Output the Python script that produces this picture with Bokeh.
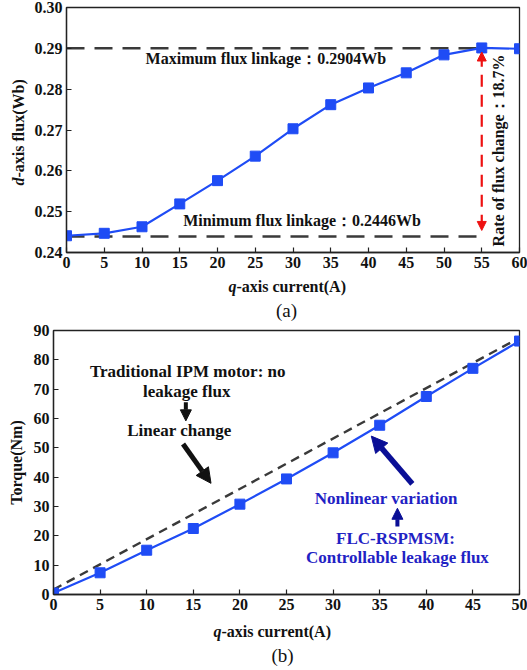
from bokeh.plotting import figure
from bokeh.models import Label, Arrow, NormalHead, FixedTicker, Range1d, ColumnDataSource, PrintfTickFormatter
from bokeh.layouts import column, row
from bokeh.embed import file_html
from bokeh.resources import INLINE

# ---------------- data: panel (a) ----------------
iq_a = [0, 5, 10, 15, 20, 25, 30, 35, 40, 45, 50, 55, 60]
flux_d = [0.2441, 0.2447, 0.2463, 0.2519, 0.2576, 0.2636, 0.2703,
          0.2762, 0.2803, 0.2840, 0.2884, 0.2901, 0.2899]
flux_max_level = 0.2900
flux_min_level = 0.2439
ref_x = [0, 55]
xticks_a = [0, 5, 10, 15, 20, 25, 30, 35, 40, 45, 50, 55, 60]
yticks_a = [0.24, 0.25, 0.26, 0.27, 0.28, 0.29, 0.30]

# ---------------- data: panel (b) ----------------
iq_b = [0, 5, 10, 15, 20, 25, 30, 35, 40, 45, 50]
torque = [0.5, 7.4, 15.1, 22.5, 30.8, 39.4, 48.3, 57.7, 67.5, 77.1, 86.4]
linear_x = [0, 50]
linear_t = [1.7, 87.5]
xticks_b = [0, 5, 10, 15, 20, 25, 30, 35, 40, 45, 50]
yticks_b = [0, 10, 20, 30, 40, 50, 60, 70, 80, 90]

SERIF = "Liberation Serif"
BLUE = "#1f4cf5"
TXT_BLUE = "#1f22c4"
ARR_BLUE = "#0a0f96"
DASH_GRAY = "#3a3a3a"


def style(p):
    p.grid.visible = False
    p.outline_line_color = "#222222"
    p.outline_line_width = 1.3
    for ax in (p.xaxis, p.yaxis):
        ax.axis_line_color = "#222222"
        ax.axis_line_width = 1.3
        ax.major_tick_in = 5
        ax.major_tick_out = 0
        ax.minor_tick_line_color = None
        ax.major_tick_line_color = "#222222"
        ax.major_tick_line_width = 1.2
        ax.major_label_text_font = SERIF
        ax.major_label_text_font_style = "bold"
        ax.major_label_text_font_size = "16px"
        ax.major_label_text_color = "#111111"
        ax.major_label_standoff = 4
        ax.axis_label_text_font = SERIF
        ax.axis_label_text_font_style = "bold"
        ax.axis_label_text_font_size = "16px"
        ax.axis_label_text_color = "#111111"


def txt(p, x, y, s, size="16px", color="#111111", style_="bold", align="center",
        angle=0.0, baseline="middle"):
    p.add_layout(Label(x=x, y=y, text=s, text_font=SERIF, text_font_style=style_,
                       text_font_size=size, text_color=color, text_align=align,
                       text_baseline=baseline, angle=angle))


def strip(w, h, top=0, bottom=0):
    # a text-only canvas whose data units are pixels (y measured downward)
    f = figure(width=w, height=h, output_backend="svg", toolbar_location=None,
               x_axis_location=None, y_axis_location=None,
               x_range=Range1d(0, w), y_range=Range1d(h - bottom, top),
               min_border_left=0, min_border_right=0,
               min_border_top=top, min_border_bottom=bottom)
    f.grid.visible = False
    f.outline_line_color = None
    return f


# ================= panel (a) =================
pa = figure(width=497, height=275, output_backend="svg", toolbar_location=None,
            x_range=Range1d(0, 60), y_range=Range1d(0.24, 0.30),
            min_border_left=36, min_border_right=8, min_border_top=7, min_border_bottom=23)
style(pa)
pa.xaxis.ticker = FixedTicker(ticks=xticks_a)
pa.yaxis.ticker = FixedTicker(ticks=yticks_a)
pa.yaxis.formatter = PrintfTickFormatter(format="%.2f")

pa.line(ref_x, [flux_max_level, flux_max_level], line_color=DASH_GRAY, line_width=2.5, line_dash="18 10")
pa.line(ref_x, [flux_min_level, flux_min_level], line_color=DASH_GRAY, line_width=2.5, line_dash="18 10")

src_a = ColumnDataSource(dict(x=iq_a, y=flux_d))
pa.line("x", "y", source=src_a, line_color=BLUE, line_width=2.2)
pa.scatter("x", "y", source=src_a, marker="square", size=10, fill_color=BLUE, line_color=BLUE)

# red double arrow at 55 A
pa.line([55, 55], [0.2884, 0.2461], line_color="#ee1111", line_width=2.2, line_dash="12 8")
pa.add_layout(Arrow(x_start=55, y_start=0.2882, x_end=55, y_end=0.2891, line_width=0,
                    line_alpha=0,
                    end=NormalHead(size=9, fill_color="#ee1111", line_color="#ee1111")))
pa.add_layout(Arrow(x_start=55, y_start=0.2463, x_end=55, y_end=0.2454, line_width=0,
                    line_alpha=0,
                    end=NormalHead(size=9, fill_color="#ee1111", line_color="#ee1111")))

txt(pa, 26.4, 0.2875, "Maximum flux linkage：0.2904Wb")
txt(pa, 31.2, 0.2478, "Minimum flux linkage：0.2446Wb")
txt(pa, 57.2, 0.2650, "Rate of flux change：18.7%", angle=1.5708)

# y-axis title of (a)
ylab_a = strip(30, 275, top=7, bottom=23)
txt(ylab_a, 18, 177, "d", style_="bold italic", align="right", angle=1.5708)
txt(ylab_a, 18, 177, "-axis flux(Wb)", align="left", angle=1.5708)

# x-axis title and caption of (a)
cap_a = strip(527, 47)
txt(cap_a, 236, 11, "q", style_="bold italic", align="right")
txt(cap_a, 236, 11, "-axis current(A)", align="left")
txt(cap_a, 286, 35, "(a)", size="19px", style_="normal")

# ================= panel (b) =================
pb = figure(width=527, height=296, output_backend="svg", toolbar_location=None,
            x_range=Range1d(0, 50), y_range=Range1d(0, 90),
            min_border_left=53, min_border_right=8, min_border_top=8, min_border_bottom=24)
style(pb)
pb.xaxis.ticker = FixedTicker(ticks=xticks_b)
pb.yaxis.ticker = FixedTicker(ticks=yticks_b)
pb.yaxis.axis_label = "Torque(Nm)"
pb.yaxis.axis_label_standoff = 6

pb.line(linear_x, linear_t, line_color=DASH_GRAY, line_width=2.4, line_dash="9 6")
src_b = ColumnDataSource(dict(x=iq_b, y=torque))
pb.line("x", "y", source=src_b, line_color=BLUE, line_width=2.2)
pb.scatter("x", "y", source=src_b, marker="square", size=10, fill_color=BLUE, line_color=BLUE)

txt(pb, 14.4, 75.9, "Traditional IPM motor: no", size="17px")
txt(pb, 14.3, 69.1, "leakage flux", size="17px")
pb.add_layout(Arrow(x_start=14.2, y_start=65.5, x_end=14.2, y_end=59.2, line_width=4,
                    line_color="#111111",
                    end=NormalHead(size=11, fill_color="#111111", line_color="#111111")))
txt(pb, 13.5, 56.0, "Linear change", size="17px")
pb.add_layout(Arrow(x_start=13.9, y_start=51.3, x_end=16.9, y_end=37.9, line_width=5,
                    line_color="#111111",
                    end=NormalHead(size=15, fill_color="#111111", line_color="#111111")))

pb.add_layout(Arrow(x_start=38.5, y_start=37.7, x_end=34.1, y_end=54.0, line_width=5.5,
                    line_color=ARR_BLUE,
                    end=NormalHead(size=16, fill_color=ARR_BLUE, line_color=ARR_BLUE)))
txt(pb, 35.7, 32.6, "Nonlinear variation", size="17px", color=TXT_BLUE)
pb.add_layout(Arrow(x_start=36.9, y_start=23.2, x_end=36.9, y_end=29.4, line_width=4,
                    line_color=ARR_BLUE,
                    end=NormalHead(size=11, fill_color=ARR_BLUE, line_color=ARR_BLUE)))
txt(pb, 36.7, 19.2, "FLC-RSPMSM:", size="17px", color=TXT_BLUE)
txt(pb, 36.9, 12.5, "Controllable leakage flux", size="17px", color=TXT_BLUE)

cap_b = strip(527, 52)
txt(cap_b, 221, 13, "q", style_="bold italic", align="right")
txt(cap_b, 221, 13, "-axis current(A)", align="left")
txt(cap_b, 282, 37, "(b)", size="19px", style_="normal")

layout = column(row(ylab_a, pa, spacing=0), row(cap_a), row(pb), row(cap_b), spacing=0)
open("out.html", "w").write(file_html(layout, INLINE))
